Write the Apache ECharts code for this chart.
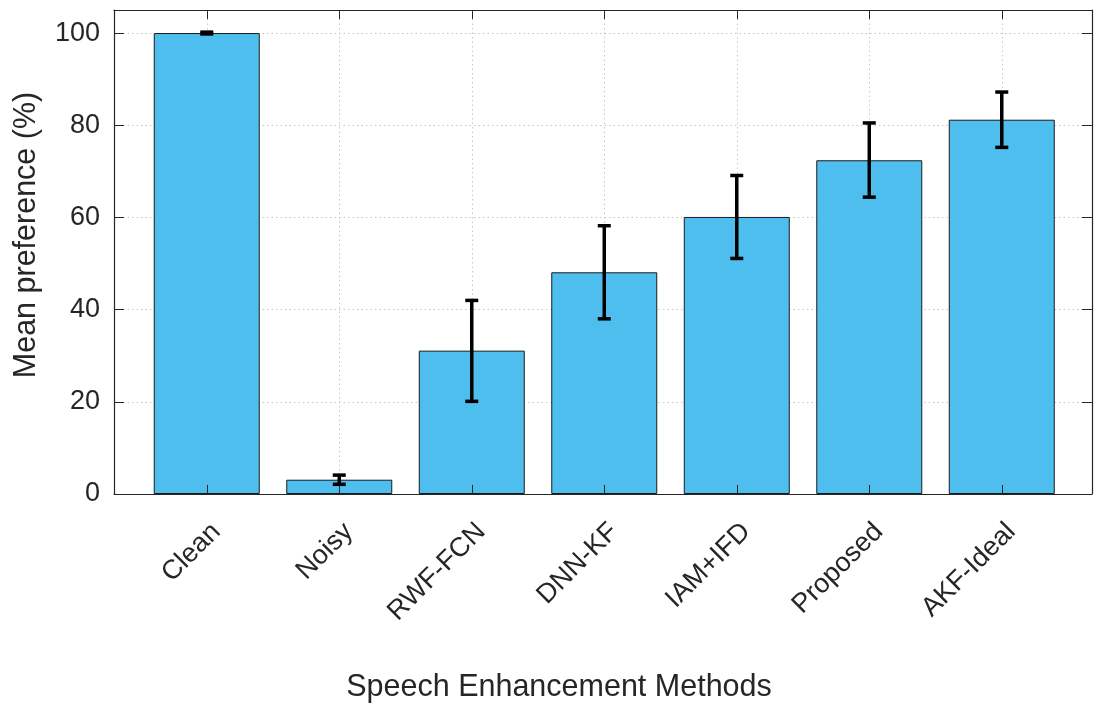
<!DOCTYPE html>
<html>
<head>
<meta charset="utf-8">
<script src="https://cdn.jsdelivr.net/npm/echarts@6/dist/echarts.min.js"></script>
<style>
  html, body { margin: 0; padding: 0; background: #fff; }
  #chart { width: 1094px; height: 704px; }
</style>
</head>
<body>
<div id="chart"></div>
<script>
var categories = ['Clean', 'Noisy', 'RWF-FCN', 'DNN-KF', 'IAM+IFD', 'Proposed', 'AKF-Ideal'];
var means = [100, 3.1, 31.1, 48.1, 60.1, 72.4, 81.2];
var errLow = [99.8, 2.1, 20.1, 38.0, 51.1, 64.4, 75.2];
var errHigh = [100.2, 4.1, 42.0, 58.2, 69.1, 80.5, 87.2];
var yTicks = [0, 20, 40, 60, 80, 100];

var textColor = '#262626';
var gridColor = '#c8c8c8';
var fontFamily = '"Liberation Sans", Arial, sans-serif';

var myChart = echarts.init(document.getElementById('chart'), null, { renderer: 'canvas' });

var barData = [];
var errData = [];
for (var i = 0; i < categories.length; i++) {
    barData.push([i + 1, means[i]]);
    errData.push([i + 1, errLow[i], errHigh[i]]);
}

// 误差棒
function renderError(params, api) {
    var x = api.value(0);
    var lo = api.coord([x, api.value(1)]);
    var hi = api.coord([x, api.value(2)]);
    var cap = 6.5;
    var st = { stroke: '#000', lineWidth: 3.5 };
    return {
        type: 'group',
        children: [
            { type: 'line', shape: { x1: lo[0], y1: lo[1], x2: hi[0], y2: hi[1] }, style: st },
            { type: 'line', shape: { x1: lo[0] - cap, y1: lo[1], x2: lo[0] + cap, y2: lo[1] }, style: st },
            { type: 'line', shape: { x1: hi[0] - cap, y1: hi[1], x2: hi[0] + cap, y2: hi[1] }, style: st }
        ]
    };
}

function isInt(v) {
    return Math.abs(v - Math.round(v)) < 1e-6;
}

function xAx(pos, opts) {
    return Object.assign({
        type: 'value',
        position: pos,
        min: 0.3,
        max: 7.68,
        minInterval: 1,
        maxInterval: 1,
        axisLine: { show: true, onZero: false, lineStyle: { color: textColor, width: 1.2 } },
        axisTick: { show: false },
        axisLabel: { show: false },
        splitLine: { show: false }
    }, opts);
}
function yAx(pos, opts) {
    return Object.assign({
        type: 'value',
        position: pos,
        min: 0,
        max: 105,
        interval: 20,
        axisLine: { show: true, onZero: false, lineStyle: { color: textColor, width: 1.2 } },
        axisTick: { show: false },
        axisLabel: { show: false },
        splitLine: { show: false }
    }, opts);
}
var tickIn = function (len) {
    return { show: true, inside: true, length: len, lineStyle: { color: textColor, width: 1 } };
};

option = {
    animation: false,
    backgroundColor: '#fff',
    grid: { left: 114, right: 0, top: 10, bottom: 210, containLabel: false },
    xAxis: [
        xAx('bottom', {
            z: 0,
            axisLabel: {
                rotate: 45,
                margin: 24,
                verticalAlign: 'top',
                color: textColor,
                fontSize: 27,
                fontFamily: fontFamily,
                formatter: function (v) {
                    return isInt(v) ? (categories[Math.round(v) - 1] || '') : '';
                }
            },
            splitLine: { show: true, lineStyle: { color: gridColor, type: [1.5, 3], width: 1 } }
        }),
        xAx('top', { z: 3, axisTick: tickIn(9) }),
        xAx('bottom', { z: 3, axisLine: { show: false }, axisTick: tickIn(9) })
    ],
    yAxis: [
        yAx('left', {
            z: 0,
            axisLabel: {
                margin: 14,
                color: textColor,
                fontSize: 27,
                fontFamily: fontFamily,
                formatter: function (v) {
                    return yTicks.indexOf(v) >= 0 ? String(v) : '';
                }
            },
            splitLine: { show: true, lineStyle: { color: gridColor, type: [1.5, 3], width: 1 } }
        }),
        yAx('right', { z: 3, axisTick: tickIn(10) }),
        yAx('left', { z: 3, axisLine: { show: false }, axisTick: tickIn(10) })
    ],
    graphic: [
        {
            type: 'text',
            x: 559,
            y: 688,
            style: {
                text: 'Speech Enhancement Methods',
                fill: textColor,
                font: '30.5px ' + fontFamily,
                textAlign: 'center',
                textVerticalAlign: 'middle'
            }
        },
        {
            type: 'text',
            x: 27,
            y: 235,
            rotation: Math.PI / 2,
            style: {
                text: 'Mean preference (%)',
                fill: textColor,
                font: '30.5px ' + fontFamily,
                textAlign: 'center',
                textVerticalAlign: 'middle'
            }
        }
    ],
    series: [
        {
            name: 'Mean preference',
            type: 'bar',
            xAxisIndex: 0,
            yAxisIndex: 0,
            barWidth: 106,
            itemStyle: { color: '#4DBEEE', borderColor: '#1a1a1a', borderWidth: 1 },
            data: barData,
            z: 2
        },
        {
            name: 'Error',
            type: 'custom',
            xAxisIndex: 0,
            yAxisIndex: 0,
            renderItem: renderError,
            encode: { x: 0, y: [1, 2] },
            data: errData,
            z: 4
        }
    ]
};

myChart.setOption(option);
</script>
</body>
</html>
